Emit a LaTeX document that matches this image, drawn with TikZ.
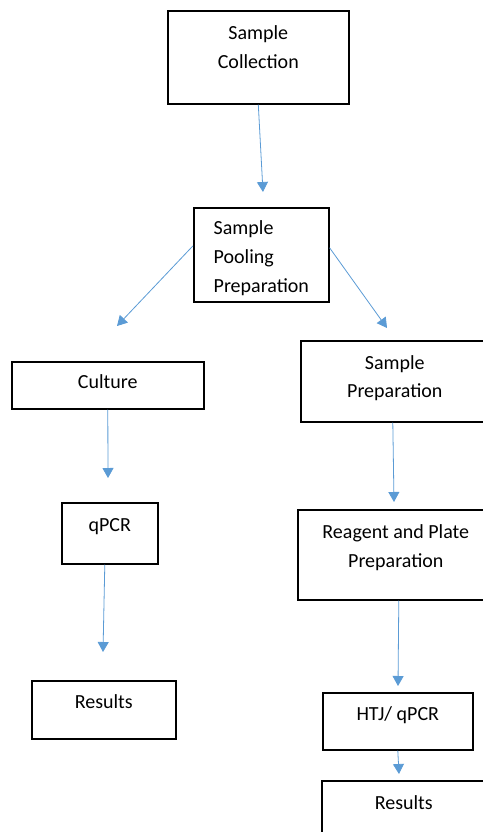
\documentclass[tikz,border=0pt]{standalone}
\usepackage{fontspec}
\setmainfont{Carlito}
\usepackage{xcolor}
\usepackage{tikz}
\usetikzlibrary{arrows.meta,positioning}

\definecolor{flowblue}{HTML}{5B9BD5}

\begin{document}
\begin{tikzpicture}[
        x=1pt, y=-1pt,
        font=\fontsize{20}{28.7}\selectfont,
        box/.style={draw, line width=1.6pt, anchor=north west, inner sep=0pt, align=center},
        arr/.style={-{Triangle[width=11pt,length=10pt]}, flowblue, line width=0.8pt}
    ]
        \useasboundingbox (0,0) rectangle (482,832);
        % top of the flow (text height runs down to the last line)
        \node[box, minimum width=181pt, text height=57.7pt, text depth=35.3pt] (collect) at (167,10) {Sample\\Collection};
        \node[box, align=left, minimum width=135pt, text height=84.4pt, text depth=9.6pt] (pool) at (193,207) {Sample\\Pooling\\Preparation};
        % left branch
        \node[box, minimum width=192pt, text height=26.7pt, text depth=20.3pt] (culture) at (11,361) {Culture};
        \node[box, minimum width=96pt, text height=29pt, text depth=32pt] (qpcr) at (61,502) {qPCR};
        \node[box, minimum width=144pt, text height=27.3pt, text depth=30.7pt] (resleft) at (31,680) {Results};
        % right branch
        \node[box, minimum width=188pt, text height=57pt, text depth=24pt] (prep) at (300,340) {Sample\\Preparation};
        \node[box, minimum width=196pt, text height=57.4pt, text depth=32.6pt] (reagent) at (297,509) {Reagent and Plate\\Preparation};
        \node[box, minimum width=150pt, text height=28pt, text depth=29pt] (htj) at (322,692) {HTJ/ qPCR};
        \node[box, minimum width=164pt, text height=29pt, text depth=60pt] (resright) at (321,780) {Results};

        % arrow tips stop short of the next box
        \coordinate (tipcollect) at (263,192);
        \coordinate (tipculture) at (117,326);
        \coordinate (tipprep) at (387,328);
        \coordinate (tipqpcr) at (108,478);
        \coordinate (tipresleft) at (103,652);
        \coordinate (tipreagent) at (394,502);
        \coordinate (tiphtj) at (398,686);
        \coordinate (tipresright) at (399,774);

        \draw[arr] (collect.south) -- (tipcollect);
        \draw[arr] ([yshift=9pt]pool.west) -- (tipculture);
        \draw[arr] ([yshift=7pt]pool.east) -- (tipprep);
        \draw[arr] (culture.south) -- (tipqpcr);
        \draw[arr] ([xshift=-5pt]qpcr.south) -- (tipresleft);
        \draw[arr] ([xshift=-2pt]prep.south) -- (tipreagent);
        \draw[arr] ([xshift=3pt]reagent.south) -- (tiphtj);
        \draw[arr] (htj.south) -- (tipresright);
    \end{tikzpicture}
\end{document}
